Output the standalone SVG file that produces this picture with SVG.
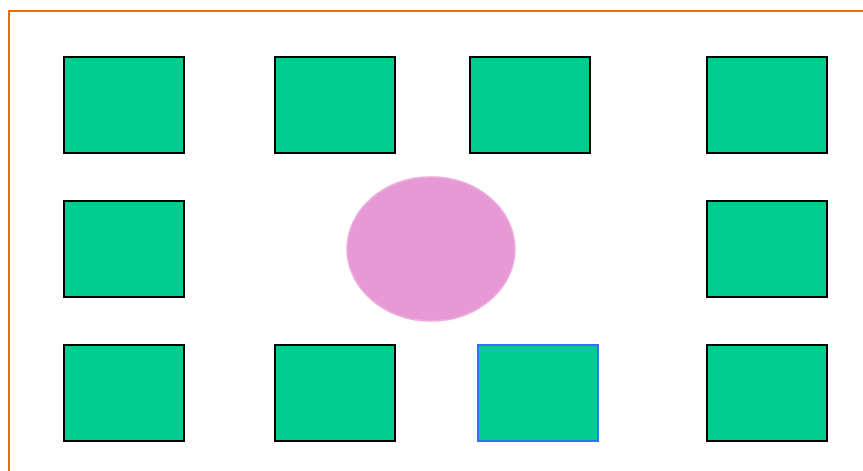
<svg xmlns="http://www.w3.org/2000/svg" width="863" height="471" viewBox="0 0 863 471">
<style>
.n{fill:#00CC90;stroke:#000;stroke-width:2}
.sel{fill:#00CC90;stroke:#3A6EF0;stroke-width:2}
</style>
<rect x="0" y="0" width="863" height="471" fill="#fff"/>
<rect x="9" y="11" width="900" height="500" fill="none" stroke="#E07012" stroke-width="2"/>
<g id="n1"><rect class="n" x="64" y="57" width="120" height="96"/></g>
<g id="n2"><rect class="n" x="275" y="57" width="120" height="96"/></g>
<g id="n3"><rect class="n" x="470" y="57" width="120" height="96"/></g>
<g id="n4"><rect class="n" x="707" y="57" width="120" height="96"/></g>
<g id="n5"><rect class="n" x="64" y="201" width="120" height="96"/></g>
<g id="n6"><ellipse cx="431" cy="249" rx="84" ry="72" fill="#E799D6" stroke="#ECADDD" stroke-width="1.5"/></g>
<g id="n7"><rect class="n" x="707" y="201" width="120" height="96"/></g>
<g id="n8"><rect class="n" x="64" y="345" width="120" height="96"/></g>
<g id="n9"><rect class="n" x="275" y="345" width="120" height="96"/></g>
<g id="n10"><rect class="sel" x="478" y="345" width="120" height="96"/></g>
<g id="n11"><rect class="n" x="707" y="345" width="120" height="96"/></g>
<g id="connectors"></g>
</svg>
